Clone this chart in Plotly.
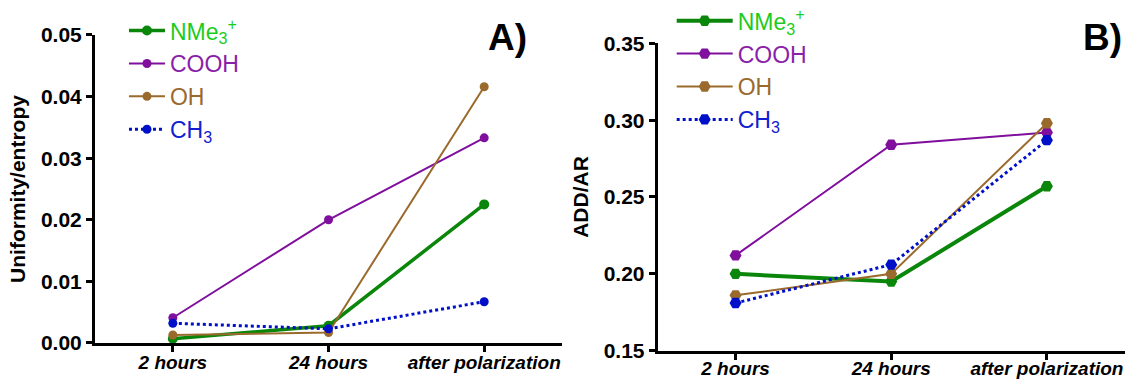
import plotly.graph_objects as go

categories = ["2 hours", "24 hours", "after polarization"]
series_names = ["NMe3+", "COOH", "OH", "CH3"]
legend_labels = ["NMe<sub>3</sub><sup>+</sup>", "COOH", "OH", "CH<sub>3</sub>"]

# Panel A: Uniformity/entropy
nme3_a = [0.0007, 0.0028, 0.0225]
cooh_a = [0.0041, 0.0200, 0.0333]
oh_a = [0.0013, 0.0017, 0.0416]
ch3_a = [0.0032, 0.0023, 0.0067]

# Panel B: ADD/AR
nme3_b = [0.200, 0.195, 0.257]
cooh_b = [0.212, 0.284, 0.292]
oh_b = [0.186, 0.200, 0.298]
ch3_b = [0.181, 0.206, 0.287]

yticks_a = [0.00, 0.01, 0.02, 0.03, 0.04, 0.05]
yticks_b = [0.15, 0.20, 0.25, 0.30, 0.35]

line_colors = ["#0a860a", "#7f0f9c", "#9a6a2c", "#0010c8"]
text_colors = ["#1ccc1c", "#8a1fa8", "#9a6a2c", "#1020d0"]
widths = [3.5, 2, 2, 3]
dashes = ["solid", "solid", "solid", "dot"]

fig = go.Figure()

data_a = [nme3_a, cooh_a, oh_a, ch3_a]
data_b = [nme3_b, cooh_b, oh_b, ch3_b]

for i in range(4):
    name = '<span style="color:%s">%s</span>' % (text_colors[i], legend_labels[i])
    fig.add_trace(go.Scatter(
        x=categories, y=data_a[i], mode="lines+markers", name=name,
        line=dict(color=line_colors[i], width=widths[i], dash=dashes[i]),
        marker=dict(symbol="circle", size=10 if i == 0 else 9, color=line_colors[i]),
        xaxis="x", yaxis="y", legend="legend",
    ))
for i in range(4):
    name = '<span style="color:%s">%s</span>' % (text_colors[i], legend_labels[i])
    fig.add_trace(go.Scatter(
        x=categories, y=data_b[i], mode="lines+markers", name=name,
        line=dict(color=line_colors[i], width=widths[i] + (0.5 if i == 0 else 0), dash=dashes[i]),
        marker=dict(symbol="hexagon2", size=12, color=line_colors[i]),
        xaxis="x2", yaxis="y2", legend="legend2",
    ))

axis_common = dict(
    showline=True, linecolor="black", linewidth=3, ticks="outside",
    tickwidth=3, ticklen=6, tickcolor="black", showgrid=False, zeroline=False,
    automargin=False,
)
xfont = dict(family="Liberation Sans", size=19, color="black", weight="bold", style="italic")
yfont = dict(family="Liberation Sans", size=21, color="black", weight="bold")
titlefont = dict(family="Liberation Sans", size=21, color="black", weight="bold")

fig.update_layout(
    width=1127, height=379,
    margin=dict(l=0, r=0, t=0, b=0, autoexpand=False),
    paper_bgcolor="white", plot_bgcolor="white",
    font=dict(family="Liberation Sans"),
    xaxis=dict(domain=[0.0843, 0.4987], range=[-0.5, 2.5], type="category",
               tickfont=xfont, anchor="y", ticklabelstandoff=-6, **axis_common),
    yaxis=dict(domain=[0.095, 0.9077], range=[0, 0.05], tickvals=yticks_a,
               tickformat=".2f", tickfont=yfont, anchor="x",
               title=dict(text="Uniformity/entropy", font=titlefont, standoff=10),
               **axis_common),
    xaxis2=dict(domain=[0.5836, 0.998], range=[-0.5, 2.5], type="category",
                tickfont=xfont, anchor="y2", ticklabelstandoff=-7, **axis_common),
    yaxis2=dict(domain=[0.0747, 0.8857], range=[0.15, 0.35], tickvals=yticks_b,
                tickformat=".2f", tickfont=yfont, anchor="x2",
                title=dict(text="ADD/AR", font=titlefont, standoff=10),
                **axis_common),
    legend=dict(x=0.110, y=0.976, xanchor="left", yanchor="top",
                font=dict(family="Liberation Sans", size=23),
                bgcolor="rgba(0,0,0,0)", itemwidth=36),
    legend2=dict(x=0.596, y=1.002, xanchor="left", yanchor="top",
                 font=dict(family="Liberation Sans", size=23),
                 bgcolor="rgba(0,0,0,0)", itemwidth=56),
    showlegend=True,
    annotations=[
        dict(text="<b>A)</b>", x=507 / 1127, y=1 - 38 / 379, xref="paper", yref="paper",
             xanchor="center", yanchor="middle",
             showarrow=False, font=dict(family="Liberation Sans", size=37, color="black")),
        dict(text="<b>B)</b>", x=1102 / 1127, y=1 - 37 / 379, xref="paper", yref="paper",
             xanchor="center", yanchor="middle",
             showarrow=False, font=dict(family="Liberation Sans", size=37, color="black")),
    ],
)

fig.write_html("out.html")
